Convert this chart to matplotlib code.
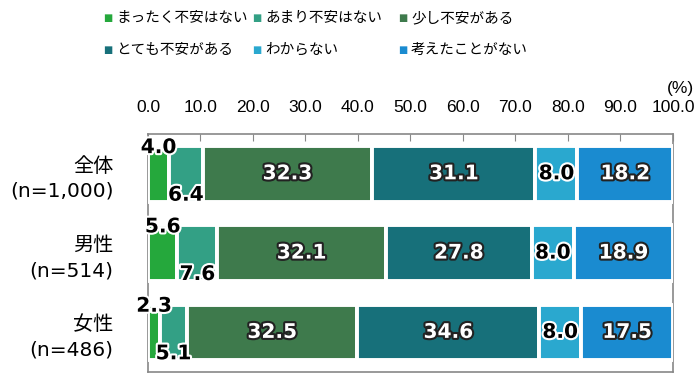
import numpy as np
import matplotlib
matplotlib.use("Agg")
from matplotlib import pyplot as plt
from matplotlib import patheffects as pe

plt.rcParams['font.family'] = ['Noto Sans CJK JP', 'DejaVu Sans']

groups = ["全体\n(n=1,000)", "男性\n(n=514)", "女性\n(n=486)"]
series = ["まったく不安はない", "あまり不安はない", "少し不安がある",
          "とても不安がある", "わからない", "考えたことがない"]
values = np.array([
    [4.0, 6.4, 32.3, 31.1, 8.0, 18.2],
    [5.6, 7.6, 32.1, 27.8, 8.0, 18.9],
    [2.3, 5.1, 32.5, 34.6, 8.0, 17.5],
])
colors = ["#25a83c", "#33a085", "#3e7a4c", "#17707a", "#2aa8cf", "#1a8bd0"]
xticks = np.arange(0, 101, 10)

fig = plt.figure(figsize=(7, 3.8), dpi=100)
ax = fig.add_axes([0.2114, 0.021, 0.75, 0.626])

h = 0.7
y = np.arange(len(groups))
left = np.zeros(len(groups))
lab = dict(ha="center", va="center", fontsize=14.5, fontweight="bold",
           family="DejaVu Sans", zorder=5)
for j, name in enumerate(series):
    ax.barh(y, values[:, j], left=left, height=h, color=colors[j],
            edgecolor="white", linewidth=2.8, label=name, zorder=3)
    for i in range(len(groups)):
        v = values[i, j]
        xc = left[i] + v / 2
        if v < 8:
            # small segments: label sits on the top / bottom edge
            yc = y[i] - h / 2 + 0.02 if j == 0 else y[i] + h / 2 - 0.08
            ax.text(xc, yc, f"{v:.1f}", color="black",
                    path_effects=[pe.withStroke(linewidth=3, foreground="white")], **lab)
        elif v < 10:
            ax.text(xc, y[i], f"{v:.1f}", color="black",
                    path_effects=[pe.withStroke(linewidth=3, foreground="white")], **lab)
        else:
            ax.text(xc, y[i], f"{v:.1f}", color="white",
                    path_effects=[pe.withStroke(linewidth=3, foreground="#222222")], **lab)
    left = left + values[:, j]

ax.set_xlim(0, 100)
ax.set_ylim(len(groups) - 0.5, -0.5)
ax.set_yticks(y)
ax.set_yticklabels(groups, fontsize=14.5, linespacing=1.4,
                   family=["DejaVu Sans", "Noto Sans CJK JP"])
ax.tick_params(axis="y", length=0, pad=25)
ax.set_xticks(xticks)
ax.set_xticklabels([f"{t:.1f}" for t in xticks], fontsize=12.5, family="Liberation Sans")
ax.xaxis.tick_top()
ax.tick_params(axis="x", direction="in", length=5, color="#888888", pad=14)
for s in ax.spines.values():
    s.set_color("#888888")
    s.set_linewidth(1.2)

fig.text(0.972, 0.768, "(%)", ha="center", va="center", fontsize=12.5, family="Liberation Sans")

# legend laid out by hand, 3 columns x 2 rows
col_x = [108 / 700, 257 / 700, 403 / 700]
row_y = [1 - 18 / 380, 1 - 50 / 380]
for k, name in enumerate(series):
    cx = col_x[k % 3]
    cy = row_y[k // 3]
    fig.text(cx, cy, "■", color=colors[k], fontsize=7, ha="center", va="center",
             family="DejaVu Sans")
    fig.text(cx + 8 / 700, cy, name, fontsize=10.5, ha="left", va="center")

plt.savefig("out.png", dpi=100)
